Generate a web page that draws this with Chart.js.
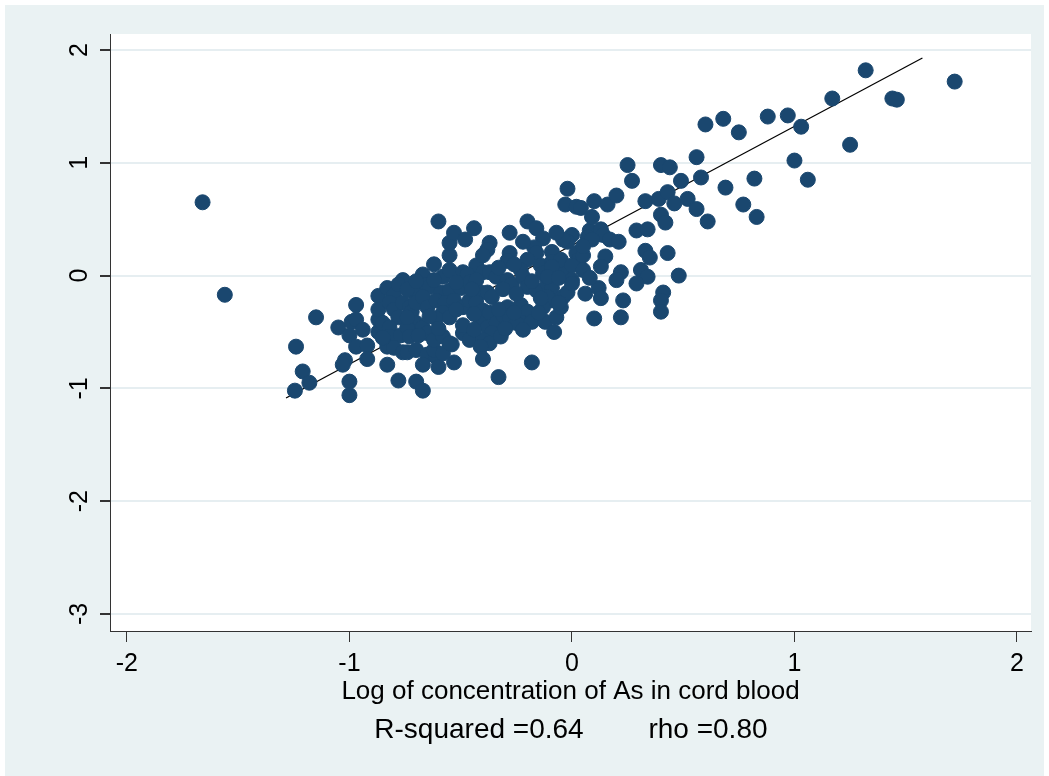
<!DOCTYPE html>
<html>
<head>
<meta charset="utf-8">
<script src="https://cdn.jsdelivr.net/npm/chart.js@4.4.0/dist/chart.umd.min.js"></script>
<style>
  html, body { margin: 0; padding: 0; background: #ffffff; }
  #wrap { width: 1049px; height: 776px; }
</style>
</head>
<body>
<div id="wrap"><canvas id="myChart" width="1049" height="776"></canvas></div>
<script>
// log As en sangre de cordón (x) contra la otra medida (y)
const asX = [
  -1.66, -1.56, -1.24, -1.21, -1.18, -1.245, -1.15, -1.05, -0.97, -0.99,
  -0.97, -1.0, -0.94, -0.97, -0.92, -0.92, -1.02, -1.03, -1.0, -1.0,
  -0.87, -0.83, -0.80, -0.76, -0.67, -0.67, -0.87, -0.87, -0.87, -0.82,
  -0.80, -0.78, -0.85, -0.82, -0.76, -0.73, -0.71, -0.68, -0.72, -0.70,
  -0.67, -0.82, -0.77, -0.83, -0.80, -0.76, -0.74, -0.70, -0.65, -0.65,
  -0.83, -0.67, -0.78, -0.70, -0.67, -0.61, -0.60, -0.53, -0.62, -0.58,
  -0.54, -0.74, -0.85, -0.73, -0.55, -0.55, -0.53, -0.60, -0.48, -0.44,
  -0.28, -0.20, -0.16, -0.13, -0.17, -0.16, -0.37, -0.38, -0.28, -0.29,
  -0.20, -0.14, -0.23, -0.03, 0.02, -0.02, 0.0, -0.02, -0.09, -0.09,
  -0.04, 0.0, 0.02, -0.58, -0.55, -0.49, -0.64, -0.59, -0.55, -0.50,
  -0.43, -0.40, -0.37, -0.34, -0.47, -0.46, -0.43, -0.29, -0.27, -0.41,
  -0.38, -0.36, -0.22, -0.20, -0.16, -0.13, -0.11, -0.09, -0.04, -0.02,
  -0.74, -0.70, -0.67, -0.65, -0.61, -0.57, -0.53, -0.58, -0.61, -0.55,
  -0.49, -0.46, -0.43, -0.40, -0.41, -0.37, -0.38, -0.34, -0.36, -0.29,
  -0.31, -0.28, -0.23, -0.20, -0.22, -0.18, -0.12, -0.07, -0.05, -0.09,
  -0.62, -0.58, -0.55, -0.49, -0.46, -0.40, -0.37, -0.41, -0.25, -0.22,
  -0.08, -0.32, -0.49, -0.40, -0.33, -0.18, 0.10, 0.22, 0.06, 0.12,
  0.13, 0.23, 0.22, 0.20, 0.31, 0.34, 0.29, 0.41, 0.40, 0.40,
  0.48, -0.05, -0.09, -0.11, -0.11, -0.06, 0.0, -0.13, 0.03, 0.0,
  0.08, 0.07, 0.13, -0.04, 0.14, 0.17, 0.21, 0.09, 0.05, 0.15,
  0.13, 0.33, 0.35, 0.43, 0.09, 0.04, 0.10, 0.16, 0.20, 0.29,
  0.34, 0.40, 0.42, 0.33, 0.39, 0.43, 0.46, 0.52, 0.56, 0.61,
  0.25, 0.27, 0.40, 0.44, 0.49, 0.56, 0.58, 0.69, 1.32, 1.72,
  1.44, 1.46, 1.17, 0.88, 0.97, 1.03, 0.68, 0.60, 0.75, 1.25,
  1.00, 1.06, 0.82, 0.77, 0.83,
  -0.78, -0.74, -0.62, -0.52, -0.45, -0.31, -0.25, -0.18, -0.06, -0.33,
  -0.26, -0.52, -0.44, -0.33, -0.26, -0.14, -0.64, -0.69, -0.60, -0.44,
  -0.30, -0.15, 0.05, 0.08, -0.07, 0.05, -0.22, -0.40, -0.62, -0.70
];
const asY = [
  0.65, -0.17, -0.63, -0.85, -0.95, -1.02, -0.37, -0.46, -0.26, -0.41,
  -0.39, -0.53, -0.48, -0.63, -0.62, -0.74, -0.75, -0.79, -0.94, -1.06,
  -0.18, -0.11, -0.17, -0.04, 0.01, -0.08, -0.39, -0.50, -0.30, -0.24,
  -0.30, -0.37, -0.42, -0.46, -0.24, -0.28, -0.15, -0.22, -0.32, -0.42,
  -0.46, -0.54, -0.53, -0.63, -0.64, -0.68, -0.68, -0.66, -0.51, -0.70,
  -0.79, -0.79, -0.93, -0.94, -1.02, -0.72, -0.81, -0.77, -0.66, -0.69,
  -0.61, -0.46, -0.55, -0.54, 0.18, 0.29, 0.38, 0.48, 0.32, 0.42,
  0.38, 0.48, 0.42, 0.33, 0.25, 0.20, 0.29, 0.23, 0.20, 0.13,
  0.14, 0.09, 0.05, 0.63, 0.61, 0.77, 0.36, 0.30, 0.21, 0.12,
  0.03, -0.04, 0.20, -0.01, 0.05, 0.03, -0.10, -0.15, -0.13, -0.11,
  0.09, 0.03, 0.03, -0.01, 0.01, -0.06, -0.04, -0.04, -0.08, -0.15,
  -0.15, -0.19, -0.01, -0.10, -0.13, 0.02, -0.07, -0.11, -0.19, -0.15,
  -0.37, -0.24, -0.19, -0.28, -0.22, -0.24, -0.22, -0.33, -0.38, -0.37,
  -0.28, -0.22, -0.24, -0.31, -0.39, -0.33, -0.46, -0.42, -0.51, -0.28,
  -0.35, -0.37, -0.26, -0.32, -0.42, -0.41, -0.41, -0.37, -0.28, -0.22,
  -0.57, -0.54, -0.60, -0.51, -0.57, -0.57, -0.60, -0.63, -0.42, -0.48,
  -0.50, -0.54, -0.44, -0.74, -0.90, -0.77, -0.38, -0.37, -0.16, -0.11,
  -0.20, -0.22, 0.03, -0.04, 0.05, -0.01, -0.07, -0.15, -0.22, -0.32,
  0.00, 0.14, 0.08, -0.01, -0.19, -0.24, -0.07, -0.28, 0.14, 0.09,
  0.40, 0.34, 0.41, 0.32, 0.36, 0.32, 0.30, 0.32, 0.18, 0.17,
  0.08, 0.22, 0.16, 0.20, 0.52, 0.60, 0.66, 0.63, 0.71, 0.40,
  0.41, 0.54, 0.47, 0.66, 0.68, 0.74, 0.64, 0.68, 0.59, 0.48,
  0.98, 0.84, 0.98, 0.96, 0.84, 1.05, 0.87, 0.78, 1.82, 1.72,
  1.57, 1.56, 1.57, 1.41, 1.42, 1.32, 1.39, 1.34, 1.27, 1.16,
  1.02, 0.85, 0.86, 0.63, 0.52,
  -0.08, -0.12, -0.04, -0.06, -0.12, -0.12, -0.16, -0.05, -0.02, 0.07,
  0.10, -0.30, -0.34, -0.30, -0.33, -0.20, -0.36, -0.53, -0.47, -0.48,
  -0.47, -0.33, 0.05, -0.02, 0.38, 0.26, 0.30, 0.18, 0.10, -0.05
];

// recta de ajuste lineal
const fitX = [-1.285, 1.575];
const fitY = [-1.085, 1.93];

const xTicks = [-2, -1, 0, 1, 2];
const yTicks = [-3, -2, -1, 0, 1, 2];
const xTitle = "Log of concentration of As in cord blood";
const notaR2 = "R-squared =0.64";
const notaRho = "rho =0.80";

const FONT = "'Liberation Sans', Arial, sans-serif";
const fondo = "#eaf2f3";
const azul = "#1a476f";

const puntos = asX.map((x, i) => ({ x: x, y: asY[i] }));
const recta = fitX.map((x, i) => ({ x: x, y: fitY[i] }));

const pluginFondo = {
  id: "fondo",
  beforeDraw(chart) {
    const { ctx, chartArea } = chart;
    ctx.save();
    ctx.fillStyle = "#ffffff";
    ctx.fillRect(0, 0, chart.width, chart.height);
    ctx.fillStyle = fondo;
    ctx.fillRect(5, 5, chart.width - 10, chart.height - 5);
    ctx.fillStyle = "#ffffff";
    ctx.fillRect(chartArea.left, chartArea.top, chartArea.right - chartArea.left, chartArea.bottom - chartArea.top);
    ctx.restore();
  },
  afterDraw(chart) {
    const { ctx, chartArea } = chart;
    const yScale = chart.scales.y;
    ctx.save();
    ctx.fillStyle = "#000";
    // etiquetas del eje y, giradas
    ctx.font = "25px " + FONT;
    ctx.textAlign = "center";
    ctx.textBaseline = "alphabetic";
    yTicks.forEach((v) => {
      const py = yScale.getPixelForValue(v);
      ctx.save();
      ctx.translate(87, py);
      ctx.rotate(-Math.PI / 2);
      ctx.fillText(String(v), 0, 0);
      ctx.restore();
    });
    const cx = (chartArea.left + chartArea.right) / 2;
    ctx.font = "26px " + FONT;
    ctx.fillText(xTitle, cx, 699);
    ctx.font = "28px " + FONT;
    ctx.fillText(notaR2, 479, 738);
    ctx.fillText(notaRho, 708, 738);
    ctx.restore();
  }
};

const config = {
  type: "scatter",
  data: {
    datasets: [
      {
        label: "As",
        data: puntos,
        backgroundColor: azul,
        borderColor: azul,
        borderWidth: 1,
        pointRadius: 7.5,
        pointHoverRadius: 7.5
      },
      {
        type: "line",
        label: "fit",
        data: recta,
        borderColor: "#000000",
        borderWidth: 1.2,
        pointRadius: 0,
        fill: false
      }
    ]
  },
  options: {
    responsive: false,
    animation: false,
    devicePixelRatio: 1,
    layout: { padding: { left: 0, top: 34, right: 18, bottom: 0 } },
    plugins: { legend: { display: false }, tooltip: { enabled: false } },
    scales: {
      x: {
        type: "linear",
        min: -2.076,
        max: 2.063,
        afterFit: (s) => { s.height = 145; },
        afterBuildTicks: (s) => { s.ticks = xTicks.map((v) => ({ value: v })); },
        grid: { drawOnChartArea: false, drawTicks: true, tickLength: 11, color: "#333", lineWidth: 1 },
        border: { display: true, color: "#333", width: 1 },
        ticks: { color: "#000", font: { size: 25, family: FONT }, padding: 7, maxRotation: 0 }
      },
      y: {
        type: "linear",
        min: -3.151,
        max: 2.142,
        afterFit: (s) => { s.width = 110; },
        afterBuildTicks: (s) => { s.ticks = yTicks.map((v) => ({ value: v })); },
        grid: { color: "#e6eef1", lineWidth: 2, tickColor: "#333", tickLength: 10, drawTicks: true },
        border: { display: true, color: "#333", width: 1 },
        ticks: { display: true, color: "rgba(0,0,0,0)", font: { size: 25, family: FONT }, padding: 0 }
      }
    }
  },
  plugins: [pluginFondo]
};

new Chart(document.getElementById("myChart"), config);
</script>
</body>
</html>
